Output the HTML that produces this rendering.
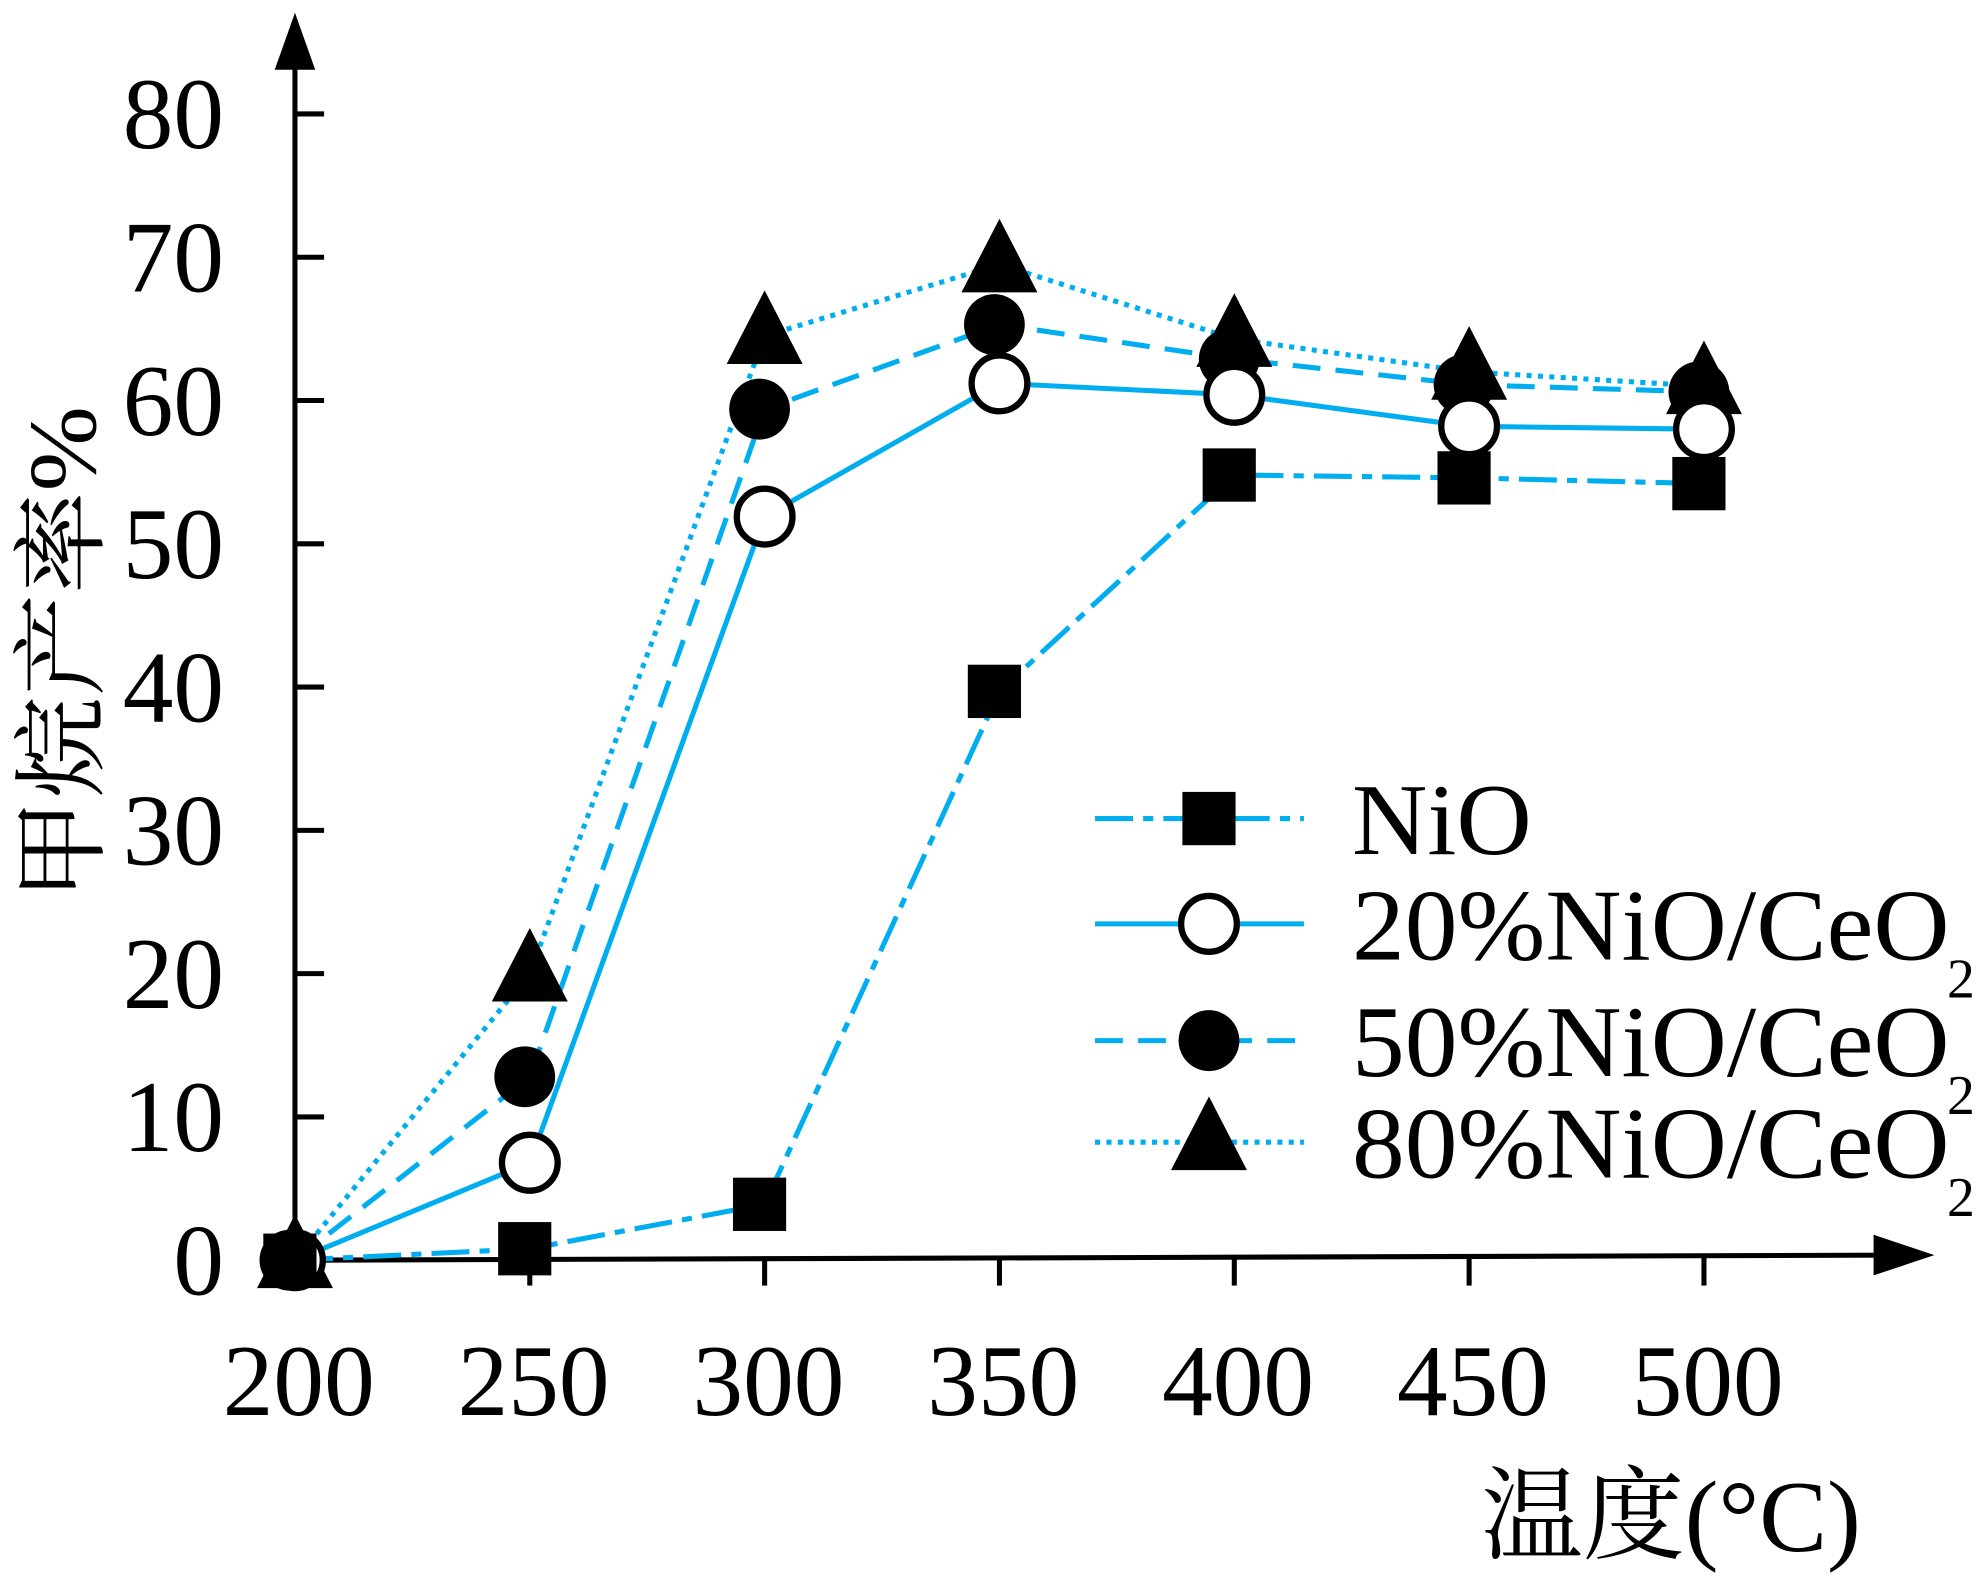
<!DOCTYPE html>
<html><head><meta charset="utf-8"><style>
html,body{margin:0;padding:0;background:#fff}
svg{display:block}
text{font-family:"Liberation Serif","Noto Serif CJK SC",serif;fill:#000}
</style></head><body>
<svg width="1985" height="1580" viewBox="0 0 1568 1245" preserveAspectRatio="none">
<g id="axes">
<line x1="233" y1="993" x2="233" y2="40" stroke="#000" stroke-width="4"/>
<polygon points="233,10 217,55 249,55" fill="#000"/>
<line x1="233" y1="993" x2="1495" y2="989" stroke="#000" stroke-width="4"/>
<polygon points="1528,989 1480,973 1480,1005" fill="#000"/>
</g>
<g id="ticks"></g>
<g id="series"></g>
<text x="0" y="0" font-size="76" textLength="390" lengthAdjust="spacingAndGlyphs" transform="translate(75,710) rotate(-90)">甲烷产率%</text>
<text x="1170" y="1222" font-size="80" textLength="300" lengthAdjust="spacingAndGlyphs">温度(°C)</text>
<g id="legend"></g>
</svg>
<script>
const categories=[200,250,300,350,400,450,500];
const yTicks=[0,10,20,30,40,50,60,70,80];
const seriesNames=["NiO","20%NiO/CeO","50%NiO/CeO","80%NiO/CeO"];
const nio=[0,0.8,3.9,39.7,54.8,54.6,54.2];
const ni20=[0,6.8,51.9,61.2,60.4,58.2,58];
const ni50=[0,12.8,59.4,65.3,62.9,61.1,60.6];
const ni80=[0,20,64.5,69.5,64.3,62,61];
const NS="http://www.w3.org/2000/svg";
const X=v=>233+(v-200)/50*185.5;
const Y=v=>993-v*11.29;
function mk(tag,attrs,parent){const e=document.createElementNS(NS,tag);for(const k in attrs)e.setAttribute(k,attrs[k]);parent.appendChild(e);return e;}
const tg=document.getElementById('ticks');
yTicks.forEach(t=>{
 const l=mk('line',{x1:233,x2:256,y1:Y(t),y2:Y(t),stroke:'#000','stroke-width':4},tg);
 
 
 const tx=mk('text',{x:177,y:Y(t)+27,'font-size':80,'text-anchor':'end'},tg);
 
 
 tx.textContent=t;
});
categories.forEach(c=>{
 if(c>200){const l=mk('line',{x1:X(c),x2:X(c),y1:990,y2:1013,stroke:'#000','stroke-width':4},tg);
 
 }
 const tx=mk('text',{x:X(c)+3,y:1115,'font-size':80,'text-anchor':'middle'},tg);
 
 
 tx.textContent=c;
});
const blue='#00AEEF';
const styles=[{d:'30,8,8,8',m:'square'},{d:'none',m:'ocircle'},{d:'22,12',m:'circle'},{d:'4,5',m:'triangle'}];
function marker(type,x,y,g,s){
 let e;
 s=s||1;
 if(type==='square')e=mk('rect',{x:x-21*s,y:y-21*s,width:42*s,height:42*s,fill:'#000'},g);
 else if(type==='ocircle')e=mk('circle',{cx:x,cy:y,r:22*s,fill:'#fff',stroke:'#000','stroke-width':5},g);
 else if(type==='circle')e=mk('circle',{cx:x,cy:y,r:24*s,fill:'#000'},g);
 else e=mk('polygon',{points:`${x},${y-36*s} ${x-30*s},${y+22*s} ${x+30*s},${y+22*s}`,fill:'#000'},g);
 return e;
}
const sg=document.getElementById('series');
const allData=[nio,ni20,ni50,ni80];
const order=[3,2,1,0];
order.forEach(i=>{
 const g=mk('g',{},sg);
 
 
 const pts=allData[i].map((v,j)=>X(categories[j])+','+Y(allData[i][j])).join(' ');
 const pl=mk('polyline',{points:pts,fill:'none',stroke:blue,'stroke-width':4,'stroke-dasharray':styles[i].d},g);
 
 
});
order.forEach(i=>{
 allData[i].forEach((v,j)=>{
  const e=marker(styles[i].m,X(categories[j])+(i===0||i===2?-4:0),Y(v),sg);
  
  
 });
});
const lg=document.getElementById('legend');
const rows=[645,728,820,900];
seriesNames.forEach((n,i)=>{
 const g=mk('g',{},lg);
 
 
 mk('line',{x1:865,x2:1030,y1:rows[i],y2:rows[i],stroke:blue,'stroke-width':4,'stroke-dasharray':styles[i].d},g);
 marker(styles[i].m,955,rows[i],g);
 const t=mk('text',{x:1068,y:rows[i]+28,'font-size':80,textLength:(i===0?142:472),lengthAdjust:'spacingAndGlyphs'},g);
 t.textContent=n;
 if(i>0){const s=mk('text',{x:1538,y:rows[i]+58,'font-size':44},g);s.textContent='2';}
});
</script>
</body></html>
